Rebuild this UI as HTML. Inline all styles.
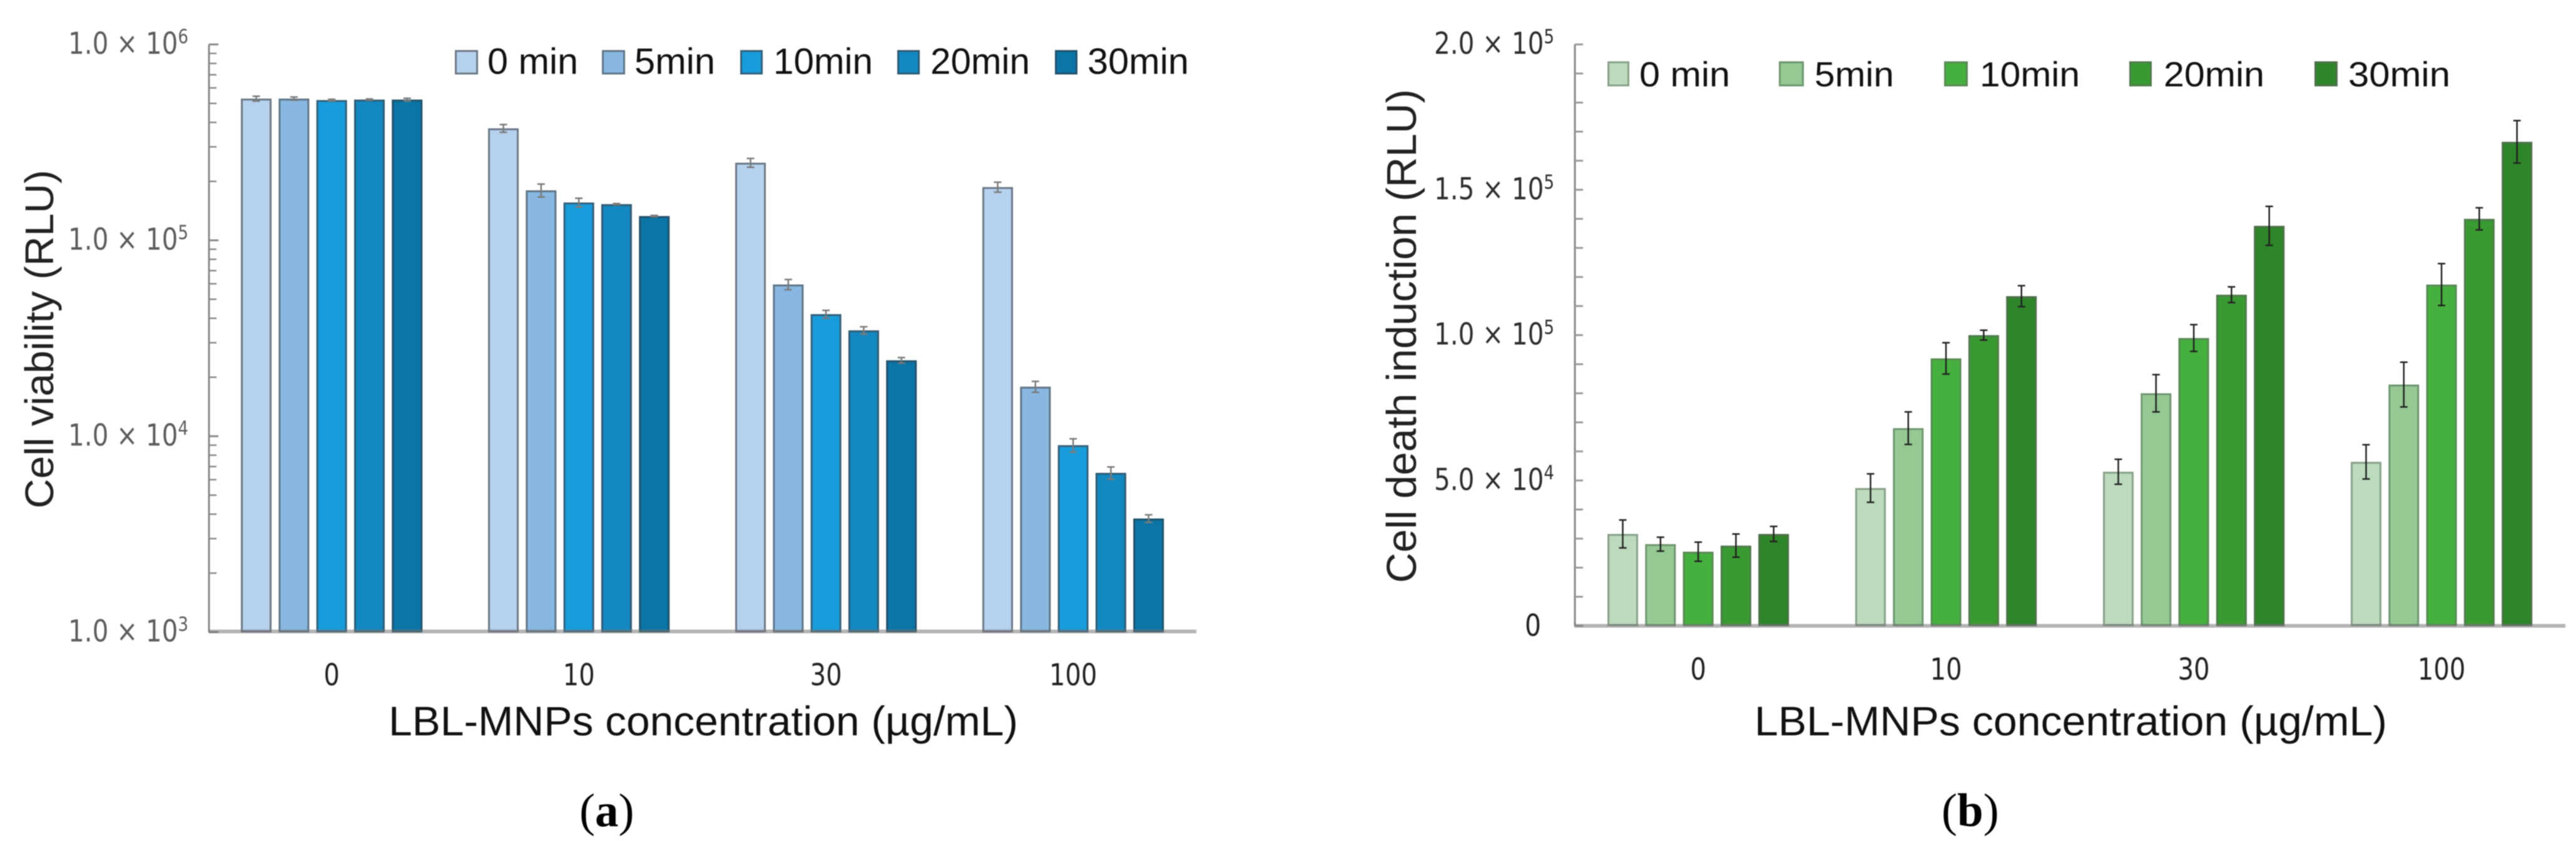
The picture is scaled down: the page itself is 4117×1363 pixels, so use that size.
<!DOCTYPE html>
<html>
<head>
<meta charset="utf-8">
<style>
html,body{margin:0;padding:0;background:#fff;width:4117px;height:1363px;overflow:hidden}
svg{display:block;filter:blur(0.9px)}
text{font-family:"Liberation Sans",sans-serif}
text.num{font-family:"DejaVu Sans",sans-serif}
</style>
</head>
<body>
<svg id="figure" xmlns="http://www.w3.org/2000/svg" width="4117" height="1363" viewBox="0 0 4117 1363">
<rect width="4117" height="1363" fill="#fff"/>

<g id="chartA"></g>
<g id="chartB"></g>

<!-- Panel A legend -->
<g font-size="58" fill="#111">
<g><rect x="728.5" y="81.5" width="34" height="36" fill="#b5d1ee" stroke="#6b7885" stroke-width="3"/><text x="779" y="118" textLength="145" lengthAdjust="spacingAndGlyphs">0 min</text></g>
<g><rect x="963.5" y="81.5" width="34" height="36" fill="#88b8e2" stroke="#5f7486" stroke-width="3"/><text x="1014" y="118" textLength="129" lengthAdjust="spacingAndGlyphs">5min</text></g>
<g><rect x="1184.5" y="81.5" width="33" height="36" fill="#199cdb" stroke="#34607a" stroke-width="3"/><text x="1236" y="118" textLength="159" lengthAdjust="spacingAndGlyphs">10min</text></g>
<g><rect x="1435.5" y="81.5" width="33" height="36" fill="#1388c0" stroke="#2f5b75" stroke-width="3"/><text x="1487" y="118" textLength="159" lengthAdjust="spacingAndGlyphs">20min</text></g>
<g><rect x="1687.5" y="81.5" width="33" height="36" fill="#0b75a6" stroke="#22506b" stroke-width="3"/><text x="1738" y="118" textLength="162" lengthAdjust="spacingAndGlyphs">30min</text></g>
</g>

<!-- Panel B legend -->
<g font-size="56" fill="#111">
<g><rect x="2570.5" y="99.5" width="32" height="37" fill="#bcdabc" stroke="#86a086" stroke-width="3"/><text x="2620" y="138" textLength="145" lengthAdjust="spacingAndGlyphs">0 min</text></g>
<g><rect x="2844.5" y="99.5" width="37" height="37" fill="#95c893" stroke="#6f9570" stroke-width="3"/><text x="2900" y="138" textLength="127" lengthAdjust="spacingAndGlyphs">5min</text></g>
<g><rect x="3108.5" y="99.5" width="35" height="37" fill="#45b03e" stroke="#5a8a56" stroke-width="3"/><text x="3164" y="138" textLength="160" lengthAdjust="spacingAndGlyphs">10min</text></g>
<g><rect x="3404.5" y="99.5" width="33" height="37" fill="#3a9a32" stroke="#4f7a4c" stroke-width="3"/><text x="3458" y="138" textLength="161" lengthAdjust="spacingAndGlyphs">20min</text></g>
<g><rect x="3700.5" y="99.5" width="34" height="37" fill="#2f8529" stroke="#4d6f4a" stroke-width="3"/><text x="3753" y="138" textLength="163" lengthAdjust="spacingAndGlyphs">30min</text></g>
</g>

<!-- Axis titles and panel labels -->
<text transform="translate(85 542) rotate(-90)" text-anchor="middle" font-size="64" fill="#222" textLength="541" lengthAdjust="spacingAndGlyphs">Cell viability (RLU)</text>
<text x="621" y="1175" font-size="66" fill="#111" textLength="1006" lengthAdjust="spacingAndGlyphs">LBL-MNPs concentration (µg/mL)</text>
<text x="926" y="1320" style="font-family:'Liberation Serif',serif" font-size="75" fill="#000">(<tspan font-weight="bold">a</tspan>)</text>

<text transform="translate(2263 537) rotate(-90)" text-anchor="middle" font-size="67" fill="#222" textLength="789" lengthAdjust="spacingAndGlyphs">Cell death induction (RLU)</text>
<text x="2804" y="1175" font-size="66" fill="#111" textLength="1011" lengthAdjust="spacingAndGlyphs">LBL-MNPs concentration (µg/mL)</text>
<text x="3103" y="1320" style="font-family:'Liberation Serif',serif" font-size="75" fill="#000">(<tspan font-weight="bold">b</tspan>)</text>
</svg>

<script>
// ---------- shared data ----------
const categories = ["0", "10", "30", "100"];
const seriesNames = ["0-min", "5min", "10min", "20min", "30min"];

// ---------- panel A: cell viability (RLU), log axis ----------
const viability0min  = [529000, 373000, 249000, 187000];
const viability5min  = [529000, 180000, 59500, 17900];
const viability10min = [520000, 156000, 42000, 9000];
const viability20min = [523000, 153000, 34700, 6500];
const viability30min = [523000, 133000, 24400, 3800];
const viabilityErr0min  = [15000, 17000, 13000, 11000];
const viabilityErr5min  = [10000, 13700, 3600, 1150];
const viabilityErr10min = [5000, 8000, 1900, 700];
const viabilityErr20min = [4000, 1000, 1500, 470];
const viabilityErr30min = [8000, 1000, 800, 170];
const viabilityColors = ["#b5d1ee", "#88b8e2", "#199cdb", "#1388c0", "#0b75a6"];
const viabilityExponents = [6, 5, 4, 3];

// ---------- panel B: cell death induction (RLU), linear axis ----------
const death0min  = [31600, 47400, 53000, 56400];
const death5min  = [28100, 68000, 80000, 83000];
const death10min = [25500, 92000, 99000, 117400];
const death20min = [27600, 100000, 113900, 140000];
const death30min = [31600, 113400, 137600, 166500];
const deathErr0min  = [4800, 4900, 4300, 5900];
const deathErr5min  = [2400, 5600, 6400, 7700];
const deathErr10min = [3300, 5400, 4600, 7200];
const deathErr20min = [4000, 1700, 2700, 3800];
const deathErr30min = [2600, 3600, 6700, 7300];
const deathColors = ["#bcdabc", "#95c893", "#45b03e", "#3a9a32", "#2f8529"];
const deathMajorTicks = [0, 50000, 100000, 150000, 200000];
const deathMinorStep = 10000;

const viabilitySeries = [viability0min, viability5min, viability10min, viability20min, viability30min];
const viabilityErrors = [viabilityErr0min, viabilityErr5min, viabilityErr10min, viabilityErr20min, viabilityErr30min];
const deathSeries = [death0min, death5min, death10min, death20min, death30min];
const deathErrors = [deathErr0min, deathErr5min, deathErr10min, deathErr20min, deathErr30min];

// ---------- axis functions ----------
const yLog = v => 1010 - 313 * (Math.log10(v) - 3);
const yLin = v => 1000 - 929 * v / 200000;
const xA = (g, s) => 385 + g * 395 + s * 60.3;
const xB = (g, s) => 2569 + g * 396 + s * 60.3;
const BAR_W = 49;

const NS = "http://www.w3.org/2000/svg";
function mk(parent, tag, props) {
  const el = document.createElementNS(NS, tag);
  for (const k in props) el.setAttribute(k, props[k]);
  parent.appendChild(el);
  return el;
}

function drawBars(root, series, errors, colors, xFn, yFn, base, borderBase, errColor, panel) {
  series.forEach((vals, s) => {
    vals.forEach((v, g) => {
      const x = xFn(g, s), top = yFn(v);
      const bar = mk(root, "rect", {x: x + 1.5, y: top + 1.5, width: BAR_W - 3, height: Math.max(0, base - top - 1.5),
        fill: colors[s], stroke: borderBase[s], "stroke-width": 3});
      
      
    });
  });
  series.forEach((vals, s) => {
    vals.forEach((v, g) => {
      const cx = xFn(g, s) + BAR_W / 2;
      const e = errors[s][g];
      const hi = yFn(v + e), lo = yFn(v - e);
      const eb = mk(root, "path", {d: "M" + cx + " " + hi + "V" + lo + "M" + (cx - 6) + " " + hi + "H" + (cx + 6) + "M" + (cx - 6) + " " + lo + "H" + (cx + 6),
        stroke: errColor, "stroke-width": 2.5, fill: "none"});
      
      
    });
  });
}

function drawCategoryLabels(root, centerFn, y, panel) {
  categories.forEach((c, g) => {
    const w = c.length * 25.5;
    const t = mk(root, "text", {class: "num", x: centerFn(g) - w / 2, y: y, "font-size": 48, fill: "#222", textLength: w, lengthAdjust: "spacingAndGlyphs"});
    t.textContent = c;
    
    
  });
}

function sciLabel(root, right, y, mantissa, exponent, color, name) {
  const w = 192;
  const t = mk(root, "text", {class: "num", x: right - w, y: y, "font-size": 48, fill: color, textLength: w, lengthAdjust: "spacingAndGlyphs"});
  
  
  t.appendChild(document.createTextNode(mantissa + " × 10"));
  const sup = mk(t, "tspan", {dy: -17, "font-size": 31});
  sup.textContent = exponent;
}

// ---------- draw panel A ----------
(function () {
  const root = document.getElementById("chartA");
  const borders = ["#6b7885", "#5f7486", "#34607a", "#2f5b75", "#22506b"];
  drawBars(root, viabilitySeries, viabilityErrors, viabilityColors, xA, yLog, 1009, borders, "#7a7a7a", "a");

  const axis = mk(root, "line", {x1: 334, y1: yLog(1e6), x2: 334, y2: yLog(1e3), stroke: "#888", "stroke-width": 3});
  
  

  viabilityExponents.forEach(ex => {
    const major = Math.pow(10, ex);
    const tick = mk(root, "line", {x1: 334, x2: 349, y1: yLog(major), y2: yLog(major), stroke: "#888", "stroke-width": 3});
    
    
    sciLabel(root, 301, yLog(major) + 15, "1.0", ex, "#5c5c5c", 'y-tick-label-a-' + ex);
    if (ex > 3) {
      for (let m = 2; m < 10; m++) {
        const v = m * Math.pow(10, ex - 1);
        const minor = mk(root, "line", {x1: 334, x2: 346, y1: yLog(v), y2: yLog(v), stroke: "#888", "stroke-width": 2.5});
        
        
      }
    }
  });

  const baseline = mk(root, "rect", {x: 333, y: 1006, width: 1579, height: 6, fill: "#777", opacity: 0.55});
  
  

  drawCategoryLabels(root, g => xA(g, 2) + BAR_W / 2, 1095, "a");
})();

// ---------- draw panel B ----------
(function () {
  const root = document.getElementById("chartB");
  const borders = ["#86a086", "#6f9570", "#5a8a56", "#4f7a4c", "#4d6f4a"];
  drawBars(root, deathSeries, deathErrors, deathColors, xB, yLin, 999, borders, "#222", "b");

  const axis = mk(root, "line", {x1: 2517, y1: yLin(200000), x2: 2517, y2: yLin(0), stroke: "#888", "stroke-width": 3});
  
  

  for (let v = 0; v <= 200000; v += deathMinorStep) {
    const minor = mk(root, "line", {x1: 2517, x2: 2530, y1: yLin(v), y2: yLin(v), stroke: "#999", "stroke-width": 3});
    
    
  }

  deathMajorTicks.forEach(v => {
    if (v === 0) {
      const zero = mk(root, "text", {class: "num", x: 2437, y: 1016, "font-size": 48, fill: "#222", textLength: 26, lengthAdjust: "spacingAndGlyphs"});
      zero.textContent = "0";
      
      
    } else {
      const ex = Math.floor(Math.log10(v));
      const mant = (v / Math.pow(10, ex)).toFixed(1);
      sciLabel(root, 2484, yLin(v) + 15, mant, ex, "#2e2e2e", 'y-tick-label-b-' + v);
    }
  });

  const baseline = mk(root, "rect", {x: 2516, y: 997, width: 1584, height: 6, fill: "#777", opacity: 0.55});
  
  

  drawCategoryLabels(root, g => xB(g, 2) + BAR_W / 2, 1086, "b");
})();
</script>
</body>
</html>
